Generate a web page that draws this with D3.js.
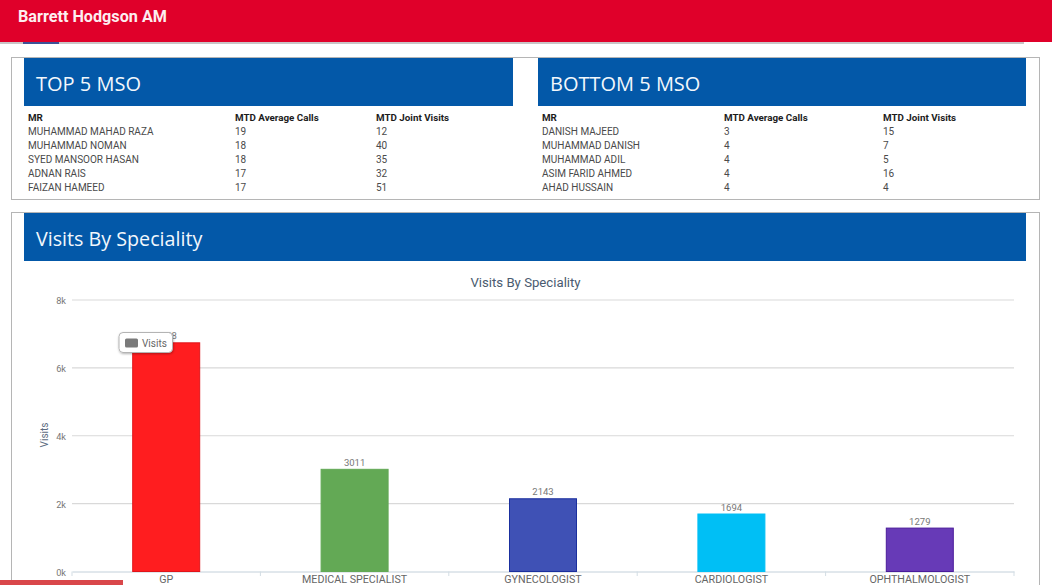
<!DOCTYPE html>
<html>
<head>
<meta charset="utf-8">
<script src="https://cdn.jsdelivr.net/npm/d3@7/dist/d3.min.js"></script>
<style>
html,body{margin:0;padding:0;background:#fff;overflow:hidden}
svg{display:block}
text{font-family:Roboto,sans-serif}
</style>
</head>
<body>
<svg id="c" width="1052" height="585"></svg>
<script>
const pageTitle = "Barrett Hodgson AM";
const tableColumns = ["MR", "MTD Average Calls", "MTD Joint Visits"];
const topTitle = "TOP 5 MSO";
const topNames = ["MUHAMMAD MAHAD RAZA", "MUHAMMAD NOMAN", "SYED MANSOOR HASAN", "ADNAN RAIS", "FAIZAN HAMEED"];
const topCalls = [19, 18, 18, 17, 17];
const topJoint = [12, 40, 35, 32, 51];
const bottomTitle = "BOTTOM 5 MSO";
const bottomNames = ["DANISH MAJEED", "MUHAMMAD DANISH", "MUHAMMAD ADIL", "ASIM FARID AHMED", "AHAD HUSSAIN"];
const bottomCalls = [3, 4, 4, 4, 4];
const bottomJoint = [15, 7, 5, 16, 4];
const sectionTitle = "Visits By Speciality";
const categories = ["GP", "MEDICAL SPECIALIST", "GYNECOLOGIST", "CARDIOLOGIST", "OPHTHALMOLOGIST"];
const visits = [6738, 3011, 2143, 1694, 1279];
const barColors = ["#ff1d1f", "#63a955", "#3f51b5", "#00bff5", "#673ab7"];
const barStrokes = ["#e0141a", "#63a955", "#1a2f9e", "#00bff5", "#4a1c9a"];
const yTicks = [0, 2000, 4000, 6000, 8000];

const svg = d3.select("#c");

const defs = svg.append("defs");
const shadow = defs.append("filter").attr("id","tipShadow")
  .attr("x","-20%").attr("y","-30%").attr("width","140%").attr("height","160%");
shadow.append("feDropShadow").attr("dx",0.5).attr("dy",1).attr("stdDeviation",1)
  .attr("flood-color","#000").attr("flood-opacity",0.3);

// page chrome
svg.append("rect").attr("x",0).attr("y",42).attr("width",1024).attr("height",2).attr("fill","#c9c4c6");
svg.append("rect").attr("x",23).attr("y",42).attr("width",36).attr("height",2).attr("fill","#3d5296");
svg.append("rect").attr("width",1052).attr("height",42).attr("fill","#e0002a");
svg.append("text").attr("x",18).attr("y",22).attr("fill","#fdeef0")
  .attr("font-size",16.2).attr("font-weight",700).text(pageTitle);

// cards
svg.append("rect").attr("x",11.5).attr("y",57.5).attr("width",1028).attr("height",142)
  .attr("fill","#fff").attr("stroke","#b5b5b5");
svg.append("rect").attr("x",11.5).attr("y",212.5).attr("width",1028).attr("height",380)
  .attr("fill","#fff").attr("stroke","#b5b5b5");

function header(x, y, w, label, size){
  svg.append("rect").attr("x",x).attr("y",y).attr("width",w).attr("height",48).attr("fill","#0358a8");
  svg.append("text").attr("x",x+12).attr("y",y+33).attr("fill","#f2f7fc")
    .style("font-family","'Open Sans',sans-serif").attr("font-size",size).text(label);
}
header(24,58,489,topTitle,20);
header(538,58,488,bottomTitle,20);
header(24,213,1002,sectionTitle,19.7);

function table(xs, names, calls, joint){
  const g = svg.append("g").attr("font-size",10);
  g.selectAll("text.h").data(tableColumns).join("text").attr("class","h")
    .attr("x",(d,i)=>xs[i]).attr("y",121).attr("font-size",9.8).attr("font-weight",700).attr("fill","#1c1c1c").text(d=>d);
  names.forEach((n,r)=>{
    const y = 135 + r*14;
    [n,calls[r],joint[r]].forEach((v,i)=>{
      g.append("text").attr("x",xs[i]).attr("y",y).attr("fill","#4a4a4a").text(v);
    });
  });
}
table([28,235,376], topNames, topCalls, topJoint);
table([542,724,883], bottomNames, bottomCalls, bottomJoint);

// chart
const x = d3.scaleBand().domain(categories).range([72,1014]);
const y = d3.scaleLinear().domain([0,8000]).range([571.5,300]);
const barW = 68;

svg.append("text").attr("x",525.5).attr("y",287).attr("text-anchor","middle")
  .attr("font-size",13.2).attr("fill","#4a5b70").text(sectionTitle);

const yAxis = d3.axisLeft(y).tickValues(yTicks).tickSize(0).tickPadding(6)
  .tickFormat(d=>(d/1000)+"k");
const yg = svg.append("g").attr("transform","translate(72,1)").call(yAxis);
yg.select(".domain").remove();
yg.selectAll("text").attr("font-size",9.2).attr("fill","#777").style("font-family","Roboto,sans-serif");

svg.append("g").selectAll("line").data(yTicks.filter(d=>d>0)).join("line")
  .attr("x1",72).attr("x2",1014).attr("y1",d=>y(d)).attr("y2",d=>y(d))
  .attr("stroke","#d9d9d9").attr("stroke-width",1.2);

const xAxis = d3.axisBottom(x).tickSizeOuter(0).tickSize(0);
const xg = svg.append("g").attr("transform","translate(0,571.5)").call(xAxis);
xg.select(".domain").attr("stroke","#c3d0da");
xg.selectAll("text").attr("font-size",10.7).attr("fill","#666").attr("dy",0).attr("y",11)
  .style("font-family","Roboto,sans-serif");
xg.selectAll("line").remove();
svg.append("g").selectAll("line").data(d3.range(categories.length+1)).join("line")
  .attr("x1",d=>x.range()[0]+d*x.step()).attr("x2",d=>x.range()[0]+d*x.step())
  .attr("y1",571.5).attr("y2",576).attr("stroke","#d3dde4");

const cx = d=>x(d)+x.bandwidth()/2;
svg.append("g").selectAll("rect").data(categories).join("rect")
  .attr("x",d=>cx(d)-barW/2+0.5).attr("width",barW-1)
  .attr("y",(d,i)=>y(visits[i])).attr("height",(d,i)=>y(0)-y(visits[i]))
  .attr("fill",(d,i)=>barColors[i]).attr("stroke",(d,i)=>barStrokes[i]);

svg.append("g").selectAll("text").data(categories).join("text")
  .attr("x",cx).attr("y",(d,i)=>y(visits[i])-3.5).attr("text-anchor","middle")
  .attr("font-size",9.5).attr("fill","#777").text((d,i)=>visits[i]);

// legend tooltip over the first bar
const tip = svg.append("g");
tip.append("rect").attr("x",119).attr("y",332.5).attr("width",53.5).attr("height",20).attr("rx",4)
  .attr("fill","#fff").attr("stroke","#b4b4b4").attr("filter","url(#tipShadow)");
tip.append("rect").attr("x",125).attr("y",338.5).attr("width",13).attr("height",9).attr("rx",1.5).attr("fill","#7a7a7a");
tip.append("text").attr("x",142).attr("y",347).attr("font-size",10).attr("fill","#666").text("Visits");

svg.append("text").attr("transform","translate(47.5,435) rotate(-90)").attr("text-anchor","middle")
  .attr("font-size",10).attr("fill","#5c6b80").text("Visits");

svg.append("rect").attr("x",0).attr("y",580).attr("width",123).attr("height",5).attr("fill","#d9474a");
</script>
</body>
</html>
